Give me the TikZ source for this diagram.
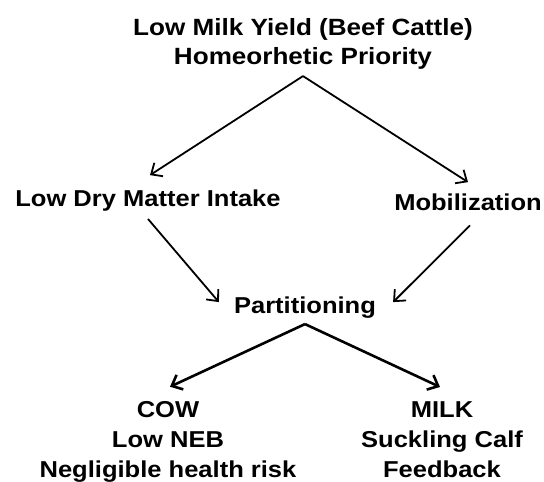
\documentclass[tikz,border=0pt]{standalone}
\usepackage{fontspec}
\setmainfont{Liberation Sans}[FakeStretch=1.11]
\usetikzlibrary{arrows.meta}

\begin{document}
\begin{tikzpicture}[x=1pt, y=-1pt,
  txt/.style={anchor=base, inner sep=0pt, align=center, font=\fontsize{23}{30}\selectfont\bfseries},
  arr/.style={-{Straight Barb[length=9pt, width=16pt]}, line width=1.8pt, draw=black},
  thickarr/.style={arr, line width=2.6pt}]
\useasboundingbox (0,0) rectangle (544,482);
% multi-line texts sit on the baseline of their last line
\node[txt, font=\fontsize{23.5}{29}\selectfont\bfseries] (yield) at (303,64) {Low Milk Yield (Beef Cattle)\\Homeorhetic Priority};
\node[txt] (intake) at (148,206) {Low Dry Matter Intake};
\node[txt] (mobil) at (468,210) {Mobilization};
\node[txt] (part) at (305,313) {Partitioning};
\node[txt] (cow) at (168,477) {COW\\Low NEB\\Negligible health risk};
\node[txt] (milk) at (442,477) {MILK\\Suckling Calf\\Feedback};
% forks under the two upper texts
\coordinate (yieldfork) at ([yshift=-7pt]yield.south);
\coordinate (partfork) at ([yshift=-6pt]part.south);
\draw [arr] (yieldfork) -- ([xshift=2pt, yshift=14pt]intake.north);
\draw [arr] (yieldfork) -- ([yshift=11pt]mobil.north);
\draw [arr] ([yshift=-8pt]intake.south) -- ([xshift=-15pt, yshift=5pt]part.west);
\draw [arr] ([xshift=2pt, yshift=-15pt]mobil.south) -- ([xshift=17pt, yshift=5pt]part.east);
\draw [thickarr] (partfork) -- ([xshift=2pt, yshift=14pt]cow.north);
\draw [thickarr] (partfork) -- ([xshift=-2pt, yshift=14pt]milk.north);
\end{tikzpicture}
\end{document}
